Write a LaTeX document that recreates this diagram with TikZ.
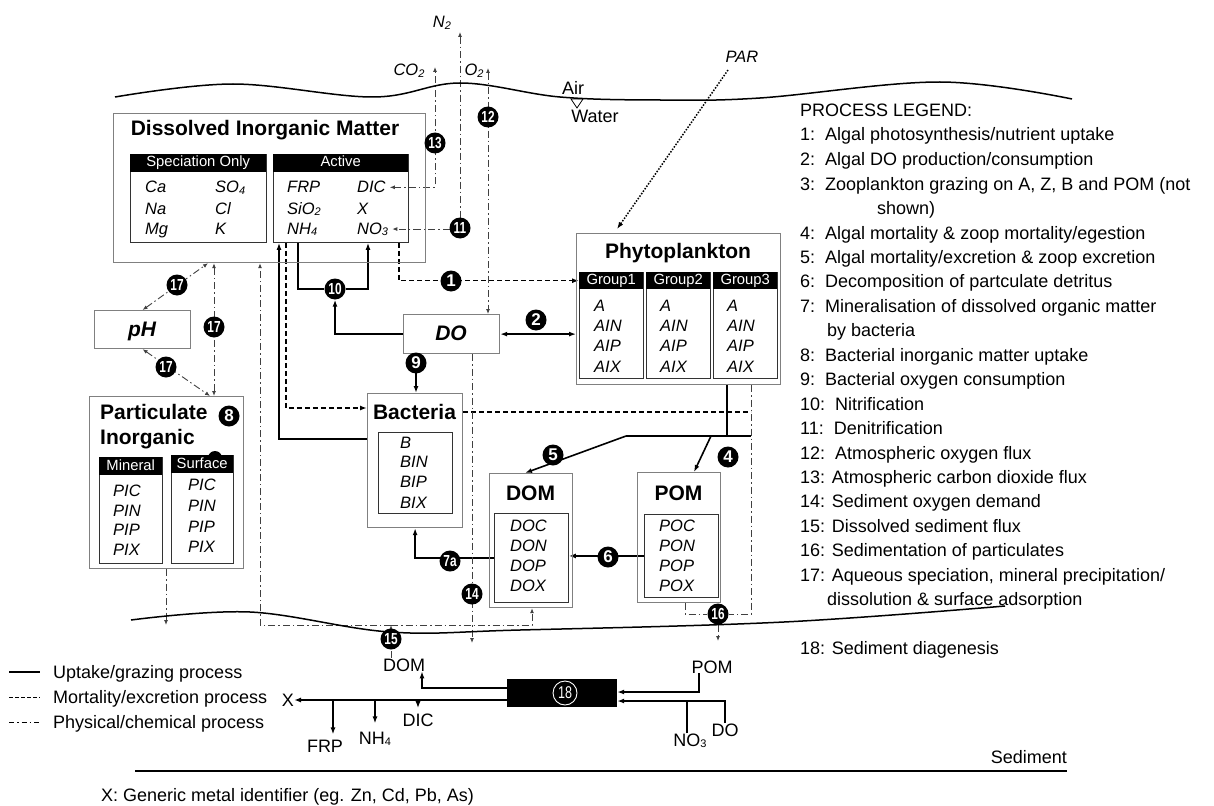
\documentclass[tikz,border=0pt]{standalone}
\usepackage{fontspec}
\setmainfont{Liberation Sans}
\newfontfamily\narrowfont[FakeStretch=0.74]{Liberation Sans}
\usetikzlibrary{arrows.meta}
\pgfdeclarelayer{bg}
\pgfsetlayers{bg,main}
\newcommand{\lsub}[1]{\raisebox{-1.5pt}{\fontsize{11}{11}\selectfont #1}}
\newcommand{\itemfont}{\fontsize{16.5}{20}\selectfont\itshape}
\newcommand{\ttlfont}{\fontsize{21}{25}\selectfont\bfseries}
\newcommand{\hdrfont}{\fontsize{14.8}{17}\selectfont}
\newcommand{\legfont}{\fontsize{18}{22}\selectfont}
\newcommand{\circfont}{\fontsize{17}{17}\selectfont\bfseries}
\newcommand{\circnfont}{\narrowfont\fontsize{16}{16}\selectfont\bfseries}

\begin{document}
\begin{tikzpicture}[x=1pt, y=-1pt,
  obox/.style={draw=black!50, line width=1.2pt, anchor=north west, inner sep=0pt},
  ibox/.style={draw=black!80, line width=0.9pt, anchor=north west, inner sep=0pt},
  hdr/.style={fill=black, text=white, anchor=north west, inner sep=0pt, minimum height=18pt, text height=10.4pt, text depth=2.8pt, font=\hdrfont},
  item/.style={anchor=base west, inner sep=0pt, font=\itemfont},
  ttl/.style={anchor=base, inner sep=0pt, font=\ttlfont},
  lab/.style={anchor=base, inner sep=0pt, font=\legfont},
  leg/.style={anchor=base west, inner sep=0pt, font=\legfont},
  circ/.style={circle, fill=black, text=white, inner sep=0pt, minimum size=21pt, font=\circfont},
  circn/.style={circ, font=\circnfont},
  ln/.style={line width=1.6pt, >={Latex[length=7pt,width=5pt]}},
  mort/.style={line width=1.4pt, dash pattern=on 5pt off 3pt, >={Latex[length=7pt,width=5pt]}},
  phys/.style={line width=0.9pt, draw=black!75, dash pattern=on 7pt off 3pt on 1.5pt off 3pt, >={Latex[length=5pt,width=4pt]}},
  par/.style={line width=1.5pt, dash pattern=on 1.5pt off 1.5pt, >={Latex[length=7pt,width=5pt]}}]
  \useasboundingbox (0,0) rectangle (1214,805);

  % air / water
  \draw[line width=1.5pt] plot[smooth, tension=0.6] coordinates {(115,97) (233,84) (373,97) (460,83) (560,97) (660,100) (760,98) (940,82) (1072,99)};
  \draw[line width=0.8pt] (571,99) -- (583,99) -- (577,108) -- cycle;
  \node[lab] (air) at (573,95) {Air};
  \node[lab] (water) at (595,123) {Water};
  \node[lab, font=\itemfont] (co2) at (409,76) {CO\lsub{2}};
  \node[lab, font=\itemfont] (n2) at (442,28) {N\lsub{2}};
  \node[lab, font=\itemfont] (o2) at (474,76) {O\lsub{2}};
  \node[lab, font=\itemfont] (par) at (742,63) {PAR};
  \coordinate (co2t) at (435,67);
  \coordinate (n2t) at (460,32);
  \coordinate (o2t) at (488,68);
  \coordinate (partail) at (728,70);

  % dissolved inorganic matter
  \node[obox, minimum width=312pt, minimum height=149pt] (dim) at (113,113) {};
  \node[ttl] (dimt) at (265,135.5) {Dissolved Inorganic Matter};
  \node[ibox, minimum width=136pt, minimum height=88pt] (spec) at (130,154) {};
  \node[hdr, minimum width=136pt] (spech) at (130,154) {Speciation Only};
  \node[ibox, minimum width=135pt, minimum height=88pt] (act) at (273,154) {};
  \node[hdr, minimum width=135pt] (acth) at (273,154) {Active};
  \node[item] (ca) at (145,193) {Ca};
  \node[item] (na) at (145,214) {Na};
  \node[item] (mg) at (145,234) {Mg};
  \node[item] (so4) at (215,193) {SO\lsub{4}};
  \node[item] (cl) at (215,214) {Cl};
  \node[item] (k) at (215,234) {K};
  \node[item] (frp) at (287,193) {FRP};
  \node[item] (sio2) at (287,214) {SiO\lsub{2}};
  \node[item] (nh4) at (287,234) {NH\lsub{4}};
  \node[item] (dic) at (357,193) {DIC};
  \node[item] (xm) at (357,214) {X};
  \node[item] (no3) at (357,234) {NO\lsub{3}};

  % phytoplankton
  \node[obox, minimum width=204pt, minimum height=151pt] (phyto) at (576,233) {};
  \node[ttl] (phytot) at (678,258) {Phytoplankton};
  \node[ibox, minimum width=64pt, minimum height=106pt] (g1) at (579,272) {};
  \node[hdr, minimum width=64pt, minimum height=17pt] (g1h) at (579,272) {Group1};
  \node[ibox, minimum width=64pt, minimum height=106pt] (g2) at (646,272) {};
  \node[hdr, minimum width=64pt, minimum height=17pt] (g2h) at (646,272) {Group2};
  \node[ibox, minimum width=64pt, minimum height=106pt] (g3) at (713,272) {};
  \node[hdr, minimum width=64pt, minimum height=17pt] (g3h) at (713,272) {Group3};
  \node[item] (a1) at (594,311) {A};
  \node[item] (ain1) at (594,331) {AIN};
  \node[item] (aip1) at (594,351) {AIP};
  \node[item] (aix1) at (594,372) {AIX};
  \node[item] (a2) at (660,311) {A};
  \node[item] (ain2) at (660,331) {AIN};
  \node[item] (aip2) at (660,351) {AIP};
  \node[item] (aix2) at (660,372) {AIX};
  \node[item] (a3) at (727,311) {A};
  \node[item] (ain3) at (727,331) {AIN};
  \node[item] (aip3) at (727,351) {AIP};
  \node[item] (aix3) at (727,372) {AIX};

  % dissolved oxygen and pH
  \node[obox, minimum width=96pt, minimum height=39pt] (do) at (403,314) {};
  \node[ttl, font=\ttlfont\itshape] (dot) at (451,340.5) {DO};
  \node[obox, minimum width=96pt, minimum height=38pt] (ph) at (94,310) {};
  \node[ttl, font=\ttlfont\itshape] (pht) at (142,336) {pH};

  % bacteria
  \node[obox, minimum width=95pt, minimum height=134pt] (bact) at (367,393) {};
  \node[ttl] (bactt) at (414.5,419.5) {Bacteria};
  \node[ibox, minimum width=74pt, minimum height=81pt] (bactin) at (378,432) {};
  \node[item] (b) at (400,448) {B};
  \node[item] (bin) at (400,467) {BIN};
  \node[item] (bip) at (400,487) {BIP};
  \node[item] (bix) at (400,508) {BIX};

  % organic matter
  \node[obox, minimum width=83pt, minimum height=134pt] (dom) at (489,473) {};
  \node[ttl] (domt) at (530.5,500.5) {DOM};
  \node[ibox, minimum width=74pt, minimum height=89pt] (domin) at (494,513) {};
  \node[item] (doc) at (510,531) {DOC};
  \node[item] (don) at (510,551) {DON};
  \node[item] (dop) at (510,571) {DOP};
  \node[item] (dox) at (510,591) {DOX};
  \node[obox, minimum width=83pt, minimum height=130pt] (pom) at (637,472) {};
  \node[ttl] (pomt) at (678.5,500.5) {POM};
  \node[ibox, minimum width=74pt, minimum height=83pt] (pomin) at (644,514) {};
  \node[item] (poc) at (659,531) {POC};
  \node[item] (pon) at (659,551) {PON};
  \node[item] (pop) at (659,571) {POP};
  \node[item] (pox) at (659,591) {POX};

  % particulate inorganic
  \node[obox, minimum width=154pt, minimum height=172pt] (part) at (89,396) {};
  \node[ttl, anchor=base west] (partt) at (100,419.5) {Particulate};
  \node[ttl, anchor=base west] (partt2) at (100,444.5) {Inorganic};
  \node[circle, fill=black, minimum size=14pt, inner sep=0pt] (blob) at (215,458) {};
  \node[ibox, minimum width=63pt, minimum height=106pt] (mine) at (99,457) {};
  \node[hdr, minimum width=63pt] (mineh) at (99,457) {Mineral};
  \node[ibox, minimum width=62pt, minimum height=108pt] (surf) at (171,455) {};
  \node[hdr, minimum width=62pt] (surfh) at (171,455) {Surface};
  \node[item] (pic1) at (113,496) {PIC};
  \node[item] (pin1) at (113,516) {PIN};
  \node[item] (pip1) at (113,535) {PIP};
  \node[item] (pix1) at (113,555) {PIX};
  \node[item] (pic2) at (188,490) {PIC};
  \node[item] (pin2) at (188,511) {PIN};
  \node[item] (pip2) at (188,532) {PIP};
  \node[item] (pix2) at (188,552) {PIX};

  % process numbers
  \node[circ] (c1) at (451,281) {1};
  \node[circ] (c2) at (536,320) {2};
  \node[circ] (c4) at (728,457) {4};
  \node[circ] (c5) at (553,455) {5};
  \node[circ] (c6) at (608,557) {6};
  \node[circn] (c7a) at (450,561) {7a};
  \node[circ] (c8) at (229,416) {8};
  \node[circ] (c9) at (416,363) {9};
  \node[circn] (c10) at (335,289) {10};
  \node[circn] (c11) at (460,228) {11};
  \node[circn] (c12) at (488,117) {12};
  \node[circn] (c13) at (435,143) {13};
  \node[circn] (c14) at (472,594) {14};
  \node[circn] (c15) at (391,639) {15};
  \node[circn] (c16) at (718,614) {16};
  \node[circn] (c17a) at (177,285) {17};
  \node[circn] (c17b) at (214,327) {17};
  \node[circn] (c17c) at (166,367) {17};

  % sediment
  \draw[line width=1.5pt] plot[smooth, tension=0.6] coordinates {(131,620) (250,612) (390,632) (520,630) (784,622) (1005,606)};
  \node[fill=black, minimum width=110pt, minimum height=28pt, inner sep=0pt] (box18) at (562,693) {};
  \node[circle, draw=white, line width=0.9pt, text=white, minimum size=24pt, inner sep=0pt, font=\narrowfont\fontsize{17}{17}\selectfont] (c18) at (565,693) {18};
  \node[lab] (domsed) at (404,671) {DOM};
  \node[lab] (pomsed) at (712,673) {POM};
  \node[lab, anchor=base east] (xlab) at (294,706) {X};
  \node[lab] (frps) at (325,752) {FRP};
  \node[lab] (nh4s) at (375,744) {NH\lsub{4}};
  \node[lab] (dics) at (418,726) {DIC};
  \node[lab] (no3s) at (690,746) {NO\lsub{3}};
  \node[lab] (dos) at (725,736) {DO};
  \node[lab, anchor=base east] (sedlab) at (1067,763) {Sediment};
  \draw[line width=1.3pt] (135,771) -- (1067,771);
  \node[leg] (xnote) at (101,801) {X: Generic metal identifier (eg. Zn, Cd, Pb, As)};

  % line legend
  \draw[ln] (9,672) -- (40,672);
  \draw[line width=1pt, dash pattern=on 4pt off 2pt] (9,697) -- (40,697);
  \draw[line width=1pt, dash pattern=on 5pt off 3pt on 1.5pt off 3pt] (9,722) -- (40,722);
  \node[leg] (kup) at (53,678) {Uptake/grazing process};
  \node[leg] (kmo) at (53,703) {Mortality/excretion process};
  \node[leg] (kph) at (53,728) {Physical/chemical process};

  % process legend
  \node[leg] (lg0) at (800,116.5) {PROCESS LEGEND:};
  \node[leg] (lg1) at (800,141) {1:\ \ Algal photosynthesis/nutrient uptake};
  \node[leg] (lg2) at (800,165.5) {2:\ \ Algal DO production/consumption};
  \node[leg] (lg3) at (800,190) {3:\ \ Zooplankton grazing on A, Z, B and POM (not};
  \node[leg] (lg3b) at (877,214.5) {shown)};
  \node[leg] (lg4) at (800,239) {4:\ \ Algal mortality \& zoop mortality/egestion};
  \node[leg] (lg5) at (800,263) {5:\ \ Algal mortality/excretion \& zoop excretion};
  \node[leg] (lg6) at (800,287.5) {6:\ \ Decomposition of partculate detritus};
  \node[leg] (lg7) at (800,312) {7:\ \ Mineralisation of dissolved organic matter};
  \node[leg] (lg7b) at (827,336.5) {by bacteria};
  \node[leg] (lg8) at (800,361) {8:\ \ Bacterial inorganic matter uptake};
  \node[leg] (lg9) at (800,385.5) {9:\ \ Bacterial oxygen consumption};
  \node[leg] (lg10) at (800,410) {10:\ \ Nitrification};
  \node[leg] (lg11) at (800,434.5) {11:\ \ Denitrification};
  \node[leg] (lg12) at (800,459) {12:\ \ Atmospheric oxygen flux};
  \node[leg] (lg13) at (800,483) {13: Atmospheric carbon dioxide flux};
  \node[leg] (lg14) at (800,507.5) {14: Sediment oxygen demand};
  \node[leg] (lg15) at (800,532) {15: Dissolved sediment flux};
  \node[leg] (lg16) at (800,556.5) {16: Sedimentation of particulates};
  \node[leg] (lg17) at (800,581) {17: Aqueous speciation, mineral precipitation/};
  \node[leg] (lg17b) at (827,605.5) {dissolution \& surface adsorption};
  \node[leg] (lg18) at (800,654.5) {18: Sediment diagenesis};

  % connectors
  \coordinate (phyr) at ([xshift=-30pt]phyto.south east);
  \coordinate (phyb) at ([xshift=-54pt]phyto.south east);
  \coordinate (j5) at (626,436);
  \coordinate (j4) at (711,436);
  \coordinate (bdr) at ([yshift=-19pt]bact.north east);
  \coordinate (t14) at (472,643);
  \coordinate (t16) at (718,641);
  \coordinate (t16p) at (166,625);
  \coordinate (s15) at (391,625);
  \coordinate (b18l) at ([yshift=-7pt]box18.west);
  \coordinate (b18r) at ([yshift=-8pt]box18.east);
  \coordinate (frpt) at ([xshift=8pt,yshift=5pt]frps.north);
  \coordinate (nh4t) at ([yshift=8pt]nh4s.north);
  \coordinate (dict) at ([yshift=5pt]dics.north);
  \coordinate (no3t) at ([xshift=-3pt]no3s.north);
  \begin{pgfonlayer}{bg}
    \draw[phys,<->] ([xshift=4pt]dic.east) -| (co2t);
    \draw[phys,<->] (n2t) |- ([xshift=4pt]no3.east);
    \draw[phys,<->] (o2t) -- (o2t |- do.north);
    \draw[par,->] (partail) -- ([xshift=41pt,yshift=4pt]phyto.north west);
    \draw[mort,->] ([xshift=-10pt]act.south east) |- (g1h.west);
    \draw[ln,<->] (do.east) -- (do.east -| phyto.west);
    \draw[ln,->] ([xshift=25pt]act.south west) |- (c10) -| ([xshift=95pt]act.south west);
    \draw[ln,->] (do.west) -| (c10);
    \draw[ln,->] (c9 |- do.south) -- (c9 |- bact.north);
    \draw[ln,->] ([yshift=-46pt]bact.north west) -| ([xshift=6pt]act.south west);
    \draw[mort,->] ([xshift=13pt]act.south west) |- ([yshift=-15pt]bact.north west);
    \draw[mort] (bdr) -- (bdr -| phyr);
    \draw[phys] (phyr) |- (c16);
    \draw[phys] ([xshift=48pt]pom.south west) |- (c16);
    \draw[phys,->] (c16) -- (t16);
    \draw[ln] (phyb) -- (phyb |- j5);
    \draw[ln] (j5) -- (phyr |- j5);
    \draw[ln,->] (j5) -- ([xshift=36pt]dom.north west);
    \draw[ln,->] (j4) -- ([xshift=57pt]pom.north west);
    \draw[ln,->] (pomin.west) -- (pomin.west -| domin.east);
    \draw[ln,->] (domin.west) -| (bact.south);
    \draw[phys,->] (t14 |- do.south) -- (t14);
    \draw[phys,->] (s15) -| ([xshift=43pt]dom.south west);
    \draw[phys,->] (s15) -| ([xshift=147pt]dim.south west);
    \draw[phys,->] (s15 |- domsed.north) -- (s15);
    \draw[phys,->] ([xshift=77pt]part.south west) -- (t16p);
    \draw[phys,<->] (ph.north) -- ([xshift=95pt]dim.south west);
    \draw[phys,<->] ([xshift=101pt]dim.south west) -- ([xshift=125pt]part.north west);
    \draw[phys,<->] (ph.south) -- ([xshift=121pt]part.north west);
    \draw[ln,->] ([yshift=5pt]box18.west) -| ([xshift=18pt]domsed.south);
    \draw[ln,->] ([xshift=-13pt]pomsed.south) |- ([yshift=1pt]box18.east);
    \draw[ln,->] (b18l) -- (b18l -| xlab.east);
    \draw[ln,->] (b18l -| frpt) -- (frpt);
    \draw[ln,->] (b18l -| nh4t) -- (nh4t);
    \draw[ln,->] (b18l -| dict) -- (dict);
    \draw[ln,->] (dos.north) |- (b18r);
    \draw[ln] (no3t) -- (no3t |- b18r);
  \end{pgfonlayer}
\end{tikzpicture}
\end{document}
